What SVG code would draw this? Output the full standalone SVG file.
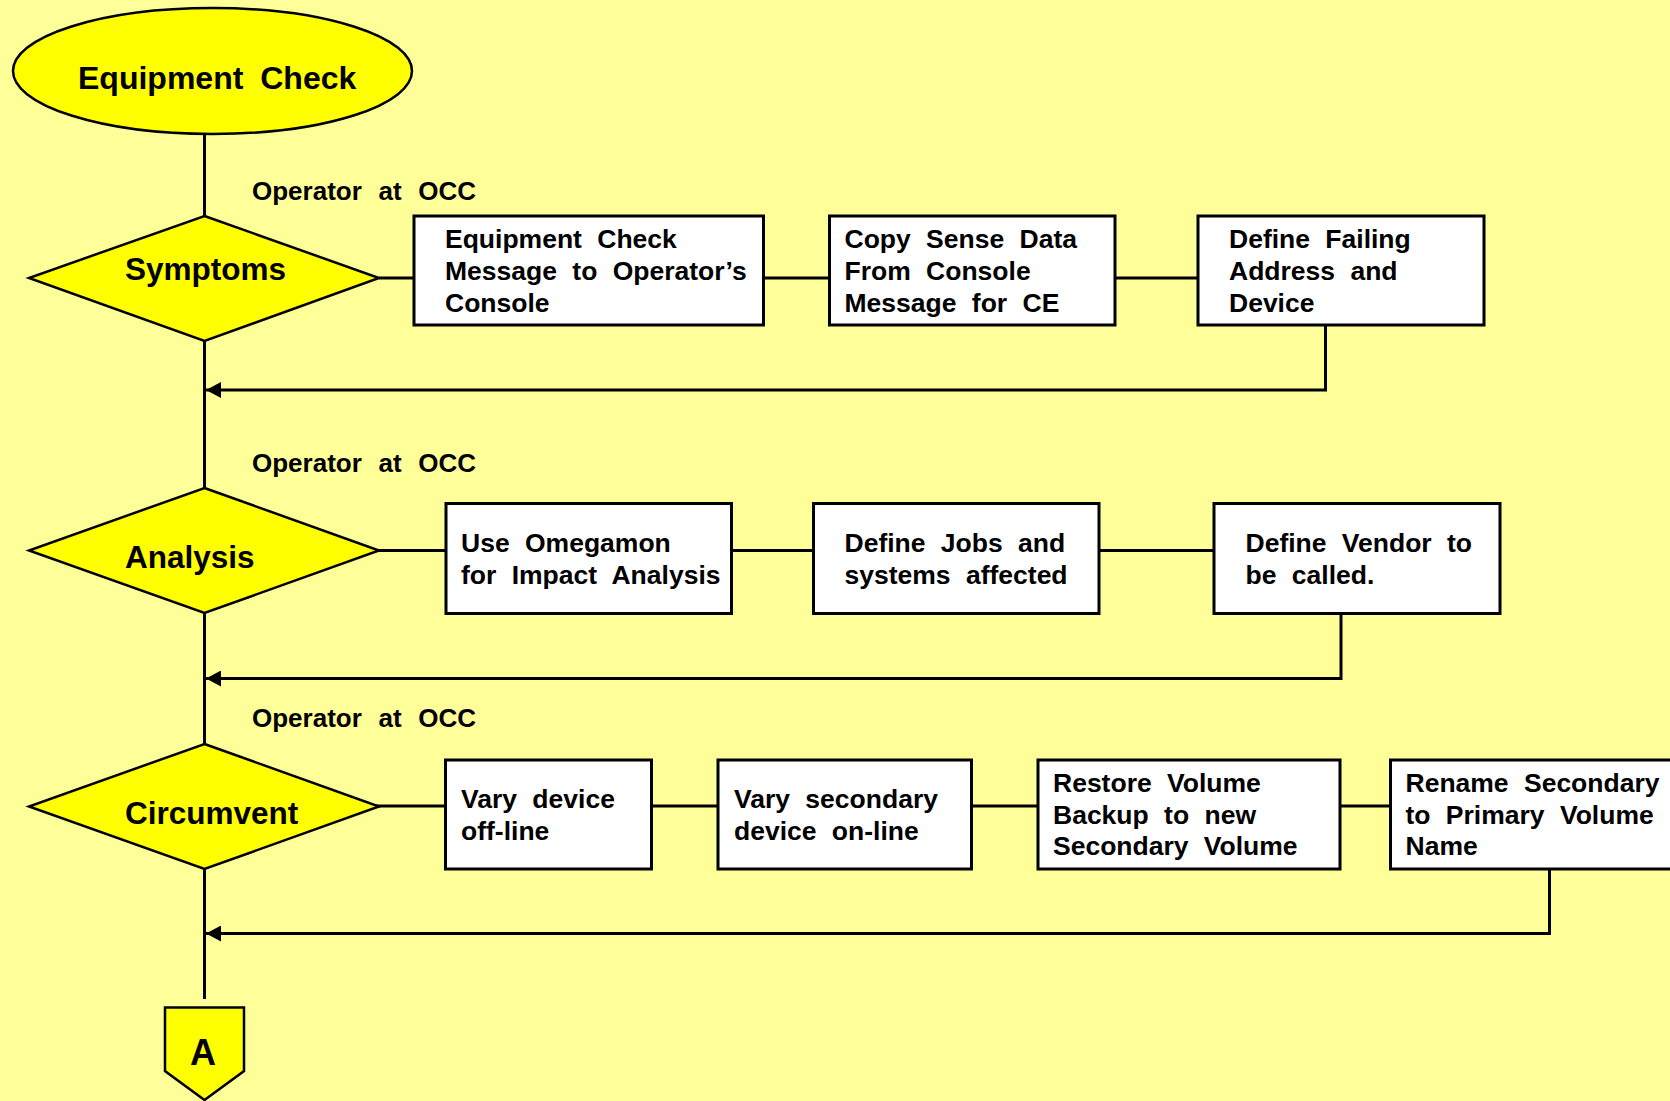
<svg xmlns="http://www.w3.org/2000/svg" width="1670" height="1101" viewBox="0 0 1670 1101">
  <defs>
    <style>
      .shape { fill: #FFFF00; stroke: #000; stroke-width: 2.5; }
      .box { fill: #FFFFFF; stroke: #000; stroke-width: 3; }
      .wire { fill: none; stroke: #000; stroke-width: 3; }
      text { font-family: "Liberation Sans", Arial, sans-serif; font-weight: bold; fill: #000; }
      .title { font-size: 32px; word-spacing: 8px; }
      .phase { font-size: 31.5px; }
      .role { font-size: 26px; word-spacing: 9.5px; }
      .step { font-size: 26.5px; word-spacing: 8px; }
      .tag { font-size: 36px; text-anchor: middle; }
    </style>
    <marker id="arrow" viewBox="0 0 15 16" refX="15" refY="8" markerWidth="15" markerHeight="16" markerUnits="userSpaceOnUse" orient="auto">
      <path d="M0,0 L15,8 L0,16 Z" fill="#000"/>
    </marker>
  </defs>

  <rect x="0" y="0" width="1670" height="1101" fill="#FFFF99"/>

  <!-- connectors -->
  <g id="connectors">
    <!-- main spine -->
    <path class="wire" d="M204.5,134 V216 M204.5,341 V488 M204.5,613 V744 M204.5,869 V999"/>
    <!-- symptoms row -->
    <path class="wire" d="M379,278 H414 M763.5,278 H829.5 M1115,278 H1198"/>
    <path class="wire" d="M1325.5,325 V390 H206" marker-end="url(#arrow)"/>
    <!-- analysis row -->
    <path class="wire" d="M364,550.5 H446 M731.5,550.5 H813.5 M1099,550.5 H1214"/>
    <path class="wire" d="M1341,613.5 V678.5 H206" marker-end="url(#arrow)"/>
    <!-- circumvent row -->
    <path class="wire" d="M364,806 H445.5 M651.5,806 H718 M971.5,806 H1038 M1340,806 H1390.5"/>
    <path class="wire" d="M1549.5,869 V933.5 H206" marker-end="url(#arrow)"/>
  </g>

  <!-- start -->
  <g id="equipment-check">
    <ellipse class="shape" cx="212.5" cy="71" rx="199.5" ry="63"/>
    <text class="title" x="78" y="89">Equipment Check</text>
  </g>

  <!-- phase decisions -->
  <g id="symptoms">
    <polygon class="shape" points="204.5,216 379,278 204.5,341 29,278"/>
    <text class="phase" x="125" y="280">Symptoms</text>
  </g>
  <g id="analysis">
    <polygon class="shape" points="204.5,488 379,550.5 204.5,613 29,550.5"/>
    <text class="phase" x="125" y="568">Analysis</text>
  </g>
  <g id="circumvent">
    <polygon class="shape" points="204.5,744 379,806.5 204.5,869 29,806.5"/>
    <text class="phase" x="125" y="824">Circumvent</text>
  </g>

  <!-- role labels -->
  <g id="role-symptoms"><text class="role" x="252" y="200">Operator at OCC</text></g>
  <g id="role-analysis"><text class="role" x="252" y="472">Operator at OCC</text></g>
  <g id="role-circumvent"><text class="role" x="252" y="727">Operator at OCC</text></g>

  <!-- symptoms steps -->
  <g id="s1">
    <rect class="box" x="414" y="216" width="349.5" height="109"/>
    <text class="step"><tspan x="445" y="248">Equipment Check</tspan><tspan x="445" y="280">Message to Operator’s</tspan><tspan x="445" y="312">Console</tspan></text>
  </g>
  <g id="s2">
    <rect class="box" x="829.5" y="216" width="285.5" height="109"/>
    <text class="step"><tspan x="844.5" y="248">Copy Sense Data</tspan><tspan x="844.5" y="280">From Console</tspan><tspan x="844.5" y="312">Message for CE</tspan></text>
  </g>
  <g id="s3">
    <rect class="box" x="1198" y="216" width="286" height="109"/>
    <text class="step"><tspan x="1229" y="248">Define Failing</tspan><tspan x="1229" y="280">Address and</tspan><tspan x="1229" y="312">Device</tspan></text>
  </g>

  <!-- analysis steps -->
  <g id="a1">
    <rect class="box" x="446" y="503.5" width="285.5" height="110"/>
    <text class="step"><tspan x="461" y="552">Use Omegamon</tspan><tspan x="461" y="584">for Impact Analysis</tspan></text>
  </g>
  <g id="a2">
    <rect class="box" x="813.5" y="503.5" width="285.5" height="110"/>
    <text class="step"><tspan x="844.5" y="552">Define Jobs and</tspan><tspan x="844.5" y="584">systems affected</tspan></text>
  </g>
  <g id="a3">
    <rect class="box" x="1214" y="503.5" width="286" height="110"/>
    <text class="step"><tspan x="1245.5" y="552">Define Vendor to</tspan><tspan x="1245.5" y="584">be called.</tspan></text>
  </g>

  <!-- circumvent steps -->
  <g id="c1">
    <rect class="box" x="445.5" y="760" width="206" height="109"/>
    <text class="step"><tspan x="461" y="808">Vary device</tspan><tspan x="461" y="840">off-line</tspan></text>
  </g>
  <g id="c2">
    <rect class="box" x="718" y="760" width="253.5" height="109"/>
    <text class="step"><tspan x="734" y="808">Vary secondary</tspan><tspan x="734" y="840">device on-line</tspan></text>
  </g>
  <g id="c3">
    <rect class="box" x="1038" y="760" width="302" height="109"/>
    <text class="step"><tspan x="1053" y="792">Restore Volume</tspan><tspan x="1053" y="823.5">Backup to new</tspan><tspan x="1053" y="855">Secondary Volume</tspan></text>
  </g>
  <g id="c4">
    <rect class="box" x="1390.5" y="760" width="320" height="109"/>
    <text class="step"><tspan x="1405.5" y="792">Rename Secondary</tspan><tspan x="1405.5" y="823.5">to Primary Volume</tspan><tspan x="1405.5" y="855">Name</tspan></text>
  </g>

  <!-- off-page connector -->
  <g id="connector-a">
    <polygon class="shape" points="165,1007.5 244,1007.5 244,1071 204.5,1100 165,1071"/>
    <text class="tag" x="203" y="1065">A</text>
  </g>
</svg>
